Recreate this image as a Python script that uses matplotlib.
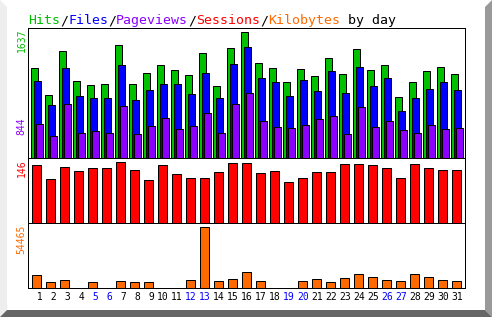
import numpy as np
import matplotlib
matplotlib.use("Agg")
import matplotlib.pyplot as plt
from matplotlib.patches import Polygon

W, H = 492, 317

days = np.arange(1, 32)
weekend = [5, 6, 12, 13, 19, 20, 26, 27]

hits = [1169, 818, 1390, 1004, 948, 961, 1468, 961, 1104, 1208, 1143, 1078, 1364, 935, 1429, 1637,
        1234, 1169, 987, 1156, 1065, 1299, 1091, 1416, 1143, 1208, 792, 987, 1130, 1182, 1091]
files = [1004, 688, 1169, 805, 779, 779, 1208, 753, 883, 961, 961, 831, 1104, 779, 1221, 1442,
         1039, 987, 805, 1013, 870, 1130, 844, 1182, 935, 1039, 611, 779, 896, 987, 883]
pageviews = [442, 286, 701, 325, 351, 325, 675, 312, 416, 520, 377, 416, 585, 325, 701, 844,
             481, 403, 390, 429, 507, 546, 312, 662, 403, 481, 364, 325, 429, 377, 390]
sessions = [139, 105, 134, 124, 132, 132, 146, 127, 103, 139, 117, 108, 108, 122, 144, 144,
            120, 124, 98, 108, 122, 122, 141, 141, 139, 132, 108, 141, 132, 127, 127]
kbytes = [11608, 5357, 7143, 0, 5357, 0, 6250, 5357, 5357, 0, 0, 7143, 54465, 6250, 8036, 14286,
          6250, 0, 0, 6250, 8036, 5357, 8929, 12500, 9822, 7143, 6250, 12500, 9822, 7143, 6250]

GREEN = "#00c000"
BLUE = "#0000ff"
PURPLE = "#8c00ff"
RED = "#ff0000"
ORANGE = "#ff6a00"

MONO = "DejaVu Sans Mono"
LW = 0.72


def px(x, y):
    # pixel coords -> figure fraction
    return (x / W, 1 - y / H)


def add_axes(top, bottom):
    left, right = 28, 465
    return fig.add_axes([left / W, 1 - bottom / H, (right - left) / W, (bottom - top) / H])


fig = plt.figure(figsize=(W / 100, H / 100), dpi=100)
fig.patch.set_facecolor("white")

# 3d-ish border
for pts, col in [
    ([(0, 0), (7, 7), (7, 310), (0, 317)], "#eeeeee"),
    ([(492, 0), (485, 7), (485, 310), (492, 317)], "#999999"),
    ([(0, 317), (7, 310), (485, 310), (492, 317)], "#666666"),
]:
    fig.add_artist(Polygon([px(*p) for p in pts], closed=True, facecolor=col,
                           edgecolor="none", transform=fig.transFigure))

ax1 = add_axes(28, 158)
ax2 = add_axes(158, 223)
ax3 = add_axes(223, 288)

bw = 6.5 / 14
ax1.bar(days - 0.5, hits, width=bw, align="edge", color=GREEN, edgecolor="black", linewidth=LW)
ax1.bar(days - 0.5 + 3 / 14, files, width=bw, align="edge", color=BLUE, edgecolor="black", linewidth=LW)
ax1.bar(days - 0.5 + 5 / 14, pageviews, width=bw, align="edge", color=PURPLE, edgecolor="black", linewidth=LW)
ax1.set_ylim(0, max(hits) * 130 / 126)

ax2.bar(days - 0.41, sessions, width=0.6, align="edge", color=RED, edgecolor="black", linewidth=LW)
ax2.set_ylim(0, max(sessions) * 65 / 61)

ax3.bar(days - 0.41, kbytes, width=0.6, align="edge", color=ORANGE, edgecolor="black", linewidth=LW)
ax3.set_ylim(0, max(kbytes) * 65 / 61)

for ax in (ax1, ax2, ax3):
    ax.set_xlim(11 / 14 - 0.5, 11 / 14 - 0.5 + 437 / 14)
    ax.set_yticks([])
    ax.set_xticks([])
    ax.set_facecolor("white")
    for s in ax.spines.values():
        s.set_linewidth(LW)
        s.set_color("black")

ax3.set_xticks(days - 0.5 + 6 / 14)
ax3.set_xticklabels([f"{d:2d}" for d in days], fontfamily=MONO, fontsize=7)
ax3.tick_params(axis="x", length=0, pad=3)
for d, lab in zip(days, ax3.get_xticklabels()):
    lab.set_color(BLUE if d in weekend else "black")

# max value labels on the left
ylabels = [("1637", GREEN, 29, "top"), ("844", PURPLE, 135, "bottom"),
           ("146", RED, 159, "top"), ("54465", ORANGE, 225, "top")]
for s, col, y, va in ylabels:
    fig.text(*px(21.5, y), s, rotation=90, color=col, fontfamily=MONO, fontsize=7,
             ha="center", va=va)

# title, coloured parts
parts = [("Hits", GREEN), ("/", "black"), ("Files", BLUE), ("/", "black"),
         ("Pageviews", PURPLE), ("/", "black"), ("Sessions", RED), ("/", "black"),
         ("Kilobytes", ORANGE), (" by day", "black")]
x = 28
for s, col in parts:
    fig.text(*px(x, 24), s, color=col, fontfamily=MONO, fontsize=9.57,
             ha="left", va="baseline")
    x += 8 * len(s)

fig.savefig("out.png", dpi=100)
